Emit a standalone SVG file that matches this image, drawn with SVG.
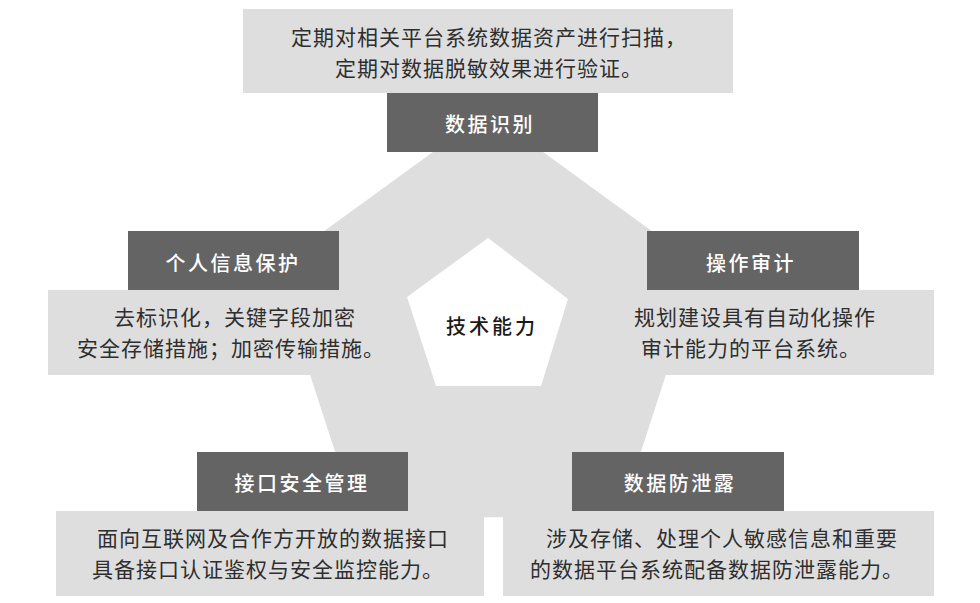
<svg xmlns="http://www.w3.org/2000/svg" width="980" height="603" viewBox="0 0 980 603">
  <style>
    .box { fill: #dedede; }
    .head { fill: #646464; }
    .ht { font-family: "Noto Sans CJK SC", "Noto Sans", sans-serif; font-size: 20px; font-weight: 500; fill: #ffffff; letter-spacing: 2.5px; text-anchor: middle; dominant-baseline: central; }
    .bt { font-family: "Liberation Serif", "Noto Sans CJK SC", serif; font-size: 21px; fill: #2e2e2e; letter-spacing: 1px; text-anchor: middle; dominant-baseline: central; }
    .ct { font-family: "Noto Sans CJK SC", "Noto Sans", sans-serif; font-size: 20px; font-weight: 500; fill: #1a1a1a; letter-spacing: 3px; text-anchor: middle; dominant-baseline: central; }
  </style>
  <rect width="980" height="603" fill="#ffffff"/>
  <g id="hub">
    <path fill="#dedede" fill-rule="evenodd" d="M488,112 L701,266.8 L619.7,517.2 L356.3,517.2 L275,266.8 Z M488,238 L568,299 L541,386 L436,386 L407,297 Z"/>
    <text class="ct" x="492" y="325">技术能力</text>
  </g>
  <g id="node-identify">
    <rect class="box" x="243" y="9" width="490" height="84"/>
    <text class="bt" x="489" y="38">定期对相关平台系统数据资产进行扫描，</text>
    <text class="bt" x="489" y="69">定期对数据脱敏效果进行验证。</text>
    <rect class="head" x="387" y="93" width="211" height="59"/>
    <text class="ht" x="490" y="123">数据识别</text>
  </g>
  <g id="node-privacy">
    <rect class="box" x="48" y="290" width="357" height="85"/>
    <text class="bt" x="235" y="318">去标识化，关键字段加密</text>
    <text class="bt" x="231" y="349">安全存储措施；加密传输措施。</text>
    <rect class="head" x="128" y="231" width="211" height="59"/>
    <text class="ht" x="233" y="262">个人信息保护</text>
  </g>
  <g id="node-audit">
    <rect class="box" x="574" y="290" width="360" height="85"/>
    <text class="bt" x="755" y="318">规划建设具有自动化操作</text>
    <text class="bt" x="751" y="349">审计能力的平台系统。</text>
    <rect class="head" x="647" y="231" width="212" height="59"/>
    <text class="ht" x="751" y="262">操作审计</text>
  </g>
  <g id="node-interface">
    <rect class="box" x="56" y="511" width="428" height="85"/>
    <text class="bt" x="273" y="539">面向互联网及合作方开放的数据接口</text>
    <text class="bt" x="268" y="570">具备接口认证鉴权与安全监控能力。</text>
    <rect class="head" x="197" y="452" width="211" height="59"/>
    <text class="ht" x="302" y="482">接口安全管理</text>
  </g>
  <g id="node-dlp">
    <rect class="box" x="503" y="511" width="431" height="85"/>
    <text class="bt" x="722" y="539">涉及存储、处理个人敏感信息和重要</text>
    <text class="bt" x="717" y="570">的数据平台系统配备数据防泄露能力。</text>
    <rect class="head" x="572" y="452" width="212" height="59"/>
    <text class="ht" x="680" y="482">数据防泄露</text>
  </g>
  <g id="connectors"/>
</svg>
